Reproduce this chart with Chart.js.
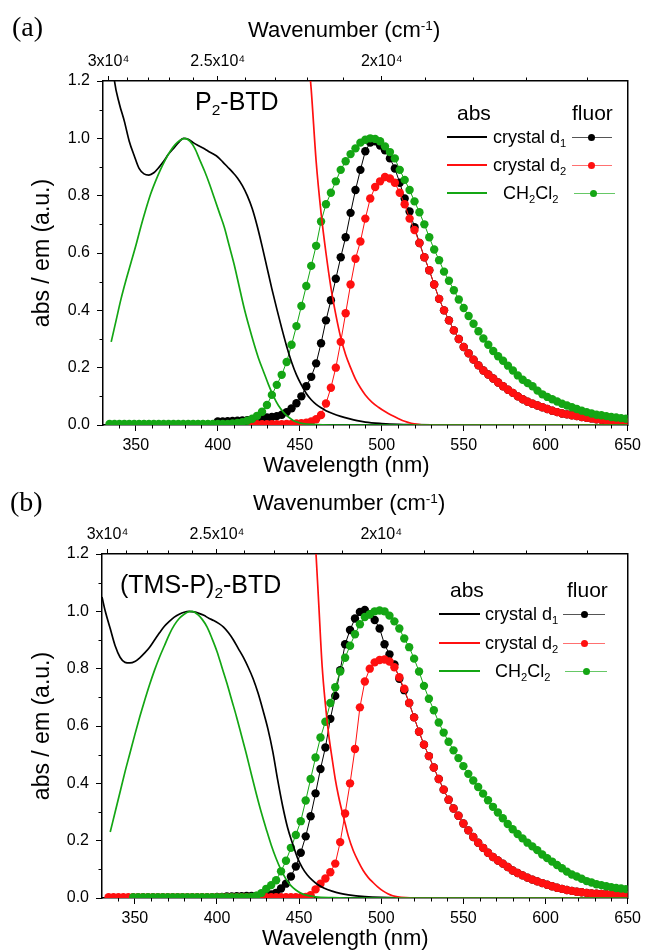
<!DOCTYPE html>
<html>
<head>
<meta charset="utf-8">
<script src="https://cdn.jsdelivr.net/npm/chart.js@4.4.1/dist/chart.umd.min.js"></script>
<style>
  html, body { margin: 0; padding: 0; background: #fff; }
  body { width: 646px; height: 952px; position: relative; overflow: hidden;
         font-family: "Liberation Sans", Arial, Helvetica, sans-serif; color: #000; }
  .panel { position: absolute; left: 0; }
  .txt { position: absolute; white-space: nowrap; line-height: 1; }
  .serif { font-family: "Liberation Serif", "Times New Roman", serif; }
  .txt sub { font-size: 0.62em; vertical-align: -0.32em; line-height: 0; }
  .txt sup { font-size: 0.62em; vertical-align: 0.55em; line-height: 0; }
  .bar { position: absolute; }
  .dot { position: absolute; width: 7px; height: 7px; border-radius: 50%; }
</style>
</head>
<body>
<div class="panel" style="top:0px"><canvas id="chartA" width="646" height="480"></canvas></div>
<div class="panel" style="top:473px"><canvas id="chartB" width="646" height="479"></canvas></div>
<script>
// ---- axis ticks ----
const nmMajor = [350, 400, 450, 500, 550, 600, 650];
const nmMinor = [340, 360, 370, 380, 390, 410, 420, 430, 440, 460, 470, 480, 490,
                 510, 520, 530, 540, 560, 570, 580, 590, 610, 620, 630, 640];
const yMajor = [0, 0.2, 0.4, 0.6, 0.8, 1.0, 1.2];
const yMinor = [0.1, 0.3, 0.5, 0.7, 0.9, 1.1];
const wnMajor = [30000, 25000, 20000];
const wnLabels = ['3x10\u2074', '2.5x10\u2074', '2x10\u2074'];
const wnMinor = [29000, 28000, 27000, 26000, 24000, 23000, 22000, 21000, 19000, 18000, 17000, 16000];

// ---- fluorescence wavelengths (shared by all emission series) ----
const fluorNm = [
  334, 337, 340, 343, 346, 349, 352, 355, 358, 361,
  364, 367, 370, 373, 376, 379, 382, 385, 388, 391,
  394, 397, 400, 403, 406, 409, 412, 415, 418, 421,
  424, 427, 430, 433, 436, 439, 442, 445, 448, 451,
  454, 457, 460, 463, 466, 469, 472, 475, 478, 481,
  484, 487, 490, 493, 496, 499, 502, 505, 508, 511,
  514, 517, 520, 523, 526, 529, 532, 535, 538, 541,
  544, 547, 550, 553, 556, 559, 562, 565, 568, 571,
  574, 577, 580, 583, 586, 589, 592, 595, 598, 601,
  604, 607, 610, 613, 616, 619, 622, 625, 628, 631,
  634, 637, 640, 643, 646, 649
];

// ---- (a) P2-BTD ----
const aAbsBlackNm = [335, 337, 340, 343, 346, 349, 352, 355, 358, 361, 364, 367, 370, 373, 376, 379, 382, 385, 388, 391,
  394, 397, 400, 403, 406, 409, 412, 415, 418, 421, 424, 427, 430, 433, 436, 439, 442, 445, 448, 451,
  454, 457, 460, 463, 466, 470, 475, 480, 485, 490, 500, 510, 520, 540, 650];
const aAbsBlack = [1.32, 1.2, 1.12, 1.06, 0.99, 0.94, 0.895, 0.876, 0.872, 0.88, 0.898, 0.92, 0.945, 0.965, 0.985, 1.0, 0.997, 0.985, 0.975, 0.966,
  0.956, 0.946, 0.935, 0.918, 0.9, 0.882, 0.862, 0.835, 0.8, 0.755, 0.695, 0.625, 0.55, 0.475, 0.405, 0.338, 0.275, 0.22, 0.175, 0.14,
  0.11, 0.088, 0.072, 0.06, 0.05, 0.04, 0.03, 0.022, 0.015, 0.01, 0.005, 0.002, 0.001, 0, 0];
const aAbsRedNm = [453, 455, 457, 460, 463, 466, 469, 472, 475, 478, 481, 484, 487, 490, 494, 498, 502, 506, 510, 514, 518, 522, 526, 650];
const aAbsRed = [1.45, 1.3, 1.17, 0.92, 0.74, 0.6, 0.48, 0.385, 0.305, 0.245, 0.2, 0.16, 0.13, 0.105, 0.08, 0.062, 0.047, 0.034, 0.023, 0.013, 0.006, 0.002, 0, 0];
const aAbsGreenNm = [335, 338, 341, 344, 347, 350, 353, 356, 359, 362, 365, 368, 371, 374, 377, 380, 383, 386, 389, 392,
  395, 398, 401, 404, 407, 410, 413, 416, 419, 422, 425, 428, 431, 434, 437, 440, 443, 446, 449, 452, 458, 470, 650];
const aAbsGreen = [0.29, 0.365, 0.44, 0.505, 0.565, 0.625, 0.69, 0.75, 0.805, 0.85, 0.89, 0.925, 0.955, 0.978, 0.993, 1.0, 0.99, 0.965, 0.925, 0.885,
  0.84, 0.79, 0.74, 0.69, 0.625, 0.56, 0.485, 0.41, 0.345, 0.285, 0.23, 0.185, 0.14, 0.1, 0.068, 0.045, 0.028, 0.016, 0.009, 0.005, 0.002, 0, 0];

const aFluorBlack = [
  null, null, null, null, null, null, null, null, null, null,
  null, null, null, null, null, null, null, null, null, null,
  null, null, 0.012, 0.012, 0.013, 0.014, 0.015, 0.016, 0.017, 0.019,
  0.021, 0.023, 0.026, 0.028, 0.031, 0.036, 0.045, 0.058, 0.076, 0.1,
  0.135, 0.168, 0.215, 0.285, 0.365, 0.435, 0.51, 0.585, 0.655, 0.74,
  0.82, 0.89, 0.955, 0.985, 0.99, 0.975, 0.958, 0.93, 0.895, 0.845,
  0.79, 0.745, 0.69, 0.635, 0.585, 0.54, 0.49, 0.44, 0.4, 0.365,
  0.33, 0.3, 0.272, 0.25, 0.228, 0.208, 0.19, 0.176, 0.162, 0.148,
  0.135, 0.123, 0.112, 0.1, 0.09, 0.081, 0.074, 0.068, 0.062, 0.056,
  0.05, 0.045, 0.04, 0.037, 0.034, 0.031, 0.028, 0.025, 0.023, 0.02,
  0.018, 0.016, 0.014, 0.012, 0.011, 0.01
];
const aFluorRed = [
  null, null, null, null, null, null, null, null, null, null,
  null, null, null, null, null, null, null, null, null, null,
  null, null, null, null, null, null, null, null, null, 0.003,
  0.003, 0.003, 0.003, 0.003, 0.003, 0.003, 0.004, 0.004, 0.005, 0.006,
  0.008, 0.012, 0.02, 0.035, 0.075, 0.13, 0.2, 0.29, 0.39, 0.49,
  0.58, 0.64, 0.72, 0.79, 0.83, 0.85, 0.865, 0.86, 0.845, 0.81,
  0.77, 0.72, 0.68, 0.635, 0.585, 0.54, 0.49, 0.44, 0.4, 0.365,
  0.33, 0.3, 0.272, 0.25, 0.228, 0.208, 0.19, 0.176, 0.162, 0.148,
  0.135, 0.123, 0.112, 0.1, 0.09, 0.081, 0.074, 0.068, 0.062, 0.056,
  0.05, 0.045, 0.04, 0.037, 0.034, 0.031, 0.028, 0.025, 0.023, 0.02,
  0.018, 0.016, 0.014, 0.012, 0.011, 0.01
];
const aFluorGreen = [
  0.004, 0.004, 0.004, 0.004, 0.004, 0.004, 0.004, 0.004, 0.004, 0.004,
  0.004, 0.004, 0.004, 0.004, 0.004, 0.004, 0.004, 0.004, 0.004, 0.004,
  0.004, 0.004, 0.004, 0.004, 0.004, 0.005, 0.007, 0.01, 0.015, 0.022,
  0.032, 0.046, 0.07, 0.105, 0.14, 0.175, 0.22, 0.28, 0.345, 0.415,
  0.485, 0.555, 0.625, 0.71, 0.77, 0.81, 0.85, 0.89, 0.92, 0.945,
  0.965, 0.985, 0.995, 1.0, 0.998, 0.99, 0.972, 0.952, 0.93, 0.89,
  0.855, 0.82, 0.78, 0.742, 0.7, 0.655, 0.612, 0.575, 0.535, 0.503,
  0.47, 0.438, 0.408, 0.38, 0.353, 0.327, 0.302, 0.28, 0.258, 0.24,
  0.224, 0.207, 0.19, 0.173, 0.158, 0.146, 0.135, 0.12, 0.107, 0.098,
  0.09, 0.082, 0.074, 0.068, 0.062, 0.056, 0.05, 0.045, 0.04, 0.036,
  0.034, 0.031, 0.028, 0.026, 0.024, 0.022
];

// ---- (b) (TMS-P)2-BTD ----
const bAbsBlackNm = [330, 332, 335, 338, 341, 344, 347, 350, 353, 356, 359, 362, 365, 368, 371, 374, 377, 380, 383, 386,
  389, 392, 395, 398, 401, 404, 407, 410, 413, 416, 419, 422, 425, 428, 431, 434, 437, 440, 443, 446,
  449, 452, 455, 458, 461, 465, 470, 475, 480, 490, 500, 520, 650];
const bAbsBlack = [1.05, 1.0, 0.94, 0.88, 0.84, 0.822, 0.82, 0.825, 0.838, 0.855, 0.875, 0.9, 0.925, 0.948, 0.965, 0.98, 0.99, 0.997, 1.0, 0.998,
  0.993, 0.986, 0.976, 0.968, 0.958, 0.945, 0.925, 0.9, 0.87, 0.84, 0.805, 0.765, 0.715, 0.655, 0.59, 0.51, 0.41, 0.32, 0.245, 0.19,
  0.14, 0.105, 0.08, 0.062, 0.048, 0.035, 0.024, 0.016, 0.011, 0.005, 0.002, 0, 0];
const bAbsRedNm = [459, 460, 462, 464, 466, 468, 470, 472, 474, 476, 478, 480, 483, 486, 489, 492, 495, 498, 501, 504, 507, 510, 515, 520, 650];
const bAbsRed = [1.32, 1.23, 1.02, 0.81, 0.675, 0.57, 0.49, 0.415, 0.355, 0.305, 0.26, 0.215, 0.165, 0.128, 0.096, 0.072, 0.054, 0.038, 0.025, 0.015, 0.008, 0.004, 0.001, 0, 0];
const bAbsGreenNm = [335, 338, 341, 344, 347, 350, 353, 356, 359, 362, 365, 368, 371, 374, 377, 380, 383, 385, 388, 391,
  394, 397, 400, 403, 406, 409, 412, 415, 418, 421, 424, 427, 430, 433, 436, 439, 442, 445, 448, 451, 455, 460, 470, 480, 650];
const bAbsGreen = [0.23, 0.3, 0.37, 0.44, 0.505, 0.57, 0.632, 0.69, 0.745, 0.795, 0.84, 0.88, 0.92, 0.952, 0.975, 0.99, 0.999, 1.0, 0.99, 0.972,
  0.945, 0.905, 0.86, 0.805, 0.75, 0.69, 0.63, 0.565, 0.5, 0.43, 0.362, 0.298, 0.24, 0.185, 0.138, 0.098, 0.066, 0.043, 0.028, 0.017, 0.009, 0.004, 0.001, 0, 0];

const bFluorBlack = [
  null, null, null, null, null, null, null, null, null, null,
  null, null, null, null, null, null, null, null, null, null,
  null, null, 0.004, 0.004, 0.005, 0.005, 0.006, 0.006, 0.007, 0.007,
  0.007, 0.007, 0.008, 0.012, 0.018, 0.033, 0.05, 0.075, 0.11, 0.158,
  0.215, 0.285, 0.365, 0.45, 0.525, 0.625, 0.705, 0.795, 0.885, 0.935,
  0.975, 0.998, 1.005, 0.99, 0.97, 0.94, 0.885, 0.85, 0.815, 0.765,
  0.725, 0.68, 0.63, 0.58, 0.535, 0.495, 0.455, 0.415, 0.378, 0.343,
  0.312, 0.287, 0.26, 0.236, 0.213, 0.193, 0.175, 0.158, 0.143, 0.131,
  0.12, 0.108, 0.096, 0.087, 0.079, 0.071, 0.064, 0.058, 0.052, 0.046,
  0.041, 0.036, 0.032, 0.028, 0.025, 0.022, 0.02, 0.018, 0.016, 0.015,
  0.014, 0.013, 0.012, 0.012, 0.011, 0.011
];
const bFluorRed = [
  0.003, 0.003, 0.003, 0.003, 0.003, 0.003, 0.003, 0.003, 0.003, 0.003,
  0.003, 0.003, 0.003, 0.003, 0.003, 0.003, 0.003, 0.003, 0.003, 0.003,
  0.003, 0.003, 0.003, 0.003, 0.003, 0.003, 0.003, 0.003, 0.003, 0.003,
  0.003, 0.003, 0.003, 0.003, 0.003, 0.003, 0.003, 0.003, 0.003, 0.003,
  0.004, 0.01, 0.03, 0.05, 0.068, 0.09, 0.12, 0.195, 0.295, 0.4,
  0.52, 0.665, 0.755, 0.8, 0.822, 0.83, 0.832, 0.825, 0.805, 0.77,
  0.73, 0.68, 0.63, 0.58, 0.535, 0.495, 0.455, 0.415, 0.378, 0.343,
  0.312, 0.287, 0.26, 0.236, 0.213, 0.193, 0.175, 0.158, 0.143, 0.131,
  0.12, 0.108, 0.096, 0.087, 0.079, 0.071, 0.064, 0.058, 0.052, 0.046,
  0.041, 0.036, 0.032, 0.028, 0.025, 0.022, 0.02, 0.018, 0.016, 0.015,
  0.014, 0.013, 0.012, 0.012, 0.011, 0.011
];
const bFluorGreen = [
  null, null, null, null, null, 0.003, 0.003, 0.003, 0.003, 0.003,
  0.003, 0.003, 0.003, 0.003, 0.003, 0.003, 0.003, 0.003, 0.003, 0.003,
  0.003, 0.003, 0.003, 0.003, 0.003, 0.003, 0.003, 0.003, 0.003, 0.004,
  0.008, 0.017, 0.032, 0.045, 0.062, 0.093, 0.13, 0.175, 0.22, 0.268,
  0.34, 0.415, 0.49, 0.56, 0.615, 0.68, 0.735, 0.79, 0.838, 0.88,
  0.92, 0.955, 0.98, 0.99, 1.0, 1.003, 1.0, 0.985, 0.965, 0.94,
  0.905, 0.875, 0.835, 0.79, 0.74, 0.695, 0.655, 0.612, 0.577, 0.545,
  0.515, 0.488, 0.46, 0.433, 0.41, 0.387, 0.364, 0.341, 0.318, 0.298,
  0.278, 0.258, 0.24, 0.223, 0.208, 0.193, 0.18, 0.167, 0.152, 0.139,
  0.127, 0.115, 0.104, 0.092, 0.082, 0.075, 0.067, 0.059, 0.054, 0.048,
  0.045, 0.041, 0.038, 0.035, 0.033, 0.031
];

const BLACK = '#000000';
const RED = '#ff1010';
const GREEN = '#14a614';

Chart.defaults.font.family = '"Liberation Sans", Arial, Helvetica, sans-serif';
Chart.defaults.color = '#000';

function pts(nm, ys) {
  return nm.map((x, i) => ({ x, y: ys[i] })).filter(p => p.y !== null);
}

function absSet(nm, ys, color, order) {
  return { data: pts(nm, ys), showLine: true, borderColor: color, borderWidth: 1.7,
           pointRadius: 0, cubicInterpolationMode: 'monotone', order };
}

function fluorSet(ys, color, order) {
  return { data: pts(fluorNm, ys), showLine: true, borderColor: color, borderWidth: 1,
           pointRadius: 4.2, pointBackgroundColor: color, pointBorderColor: color,
           pointBorderWidth: 0, order };
}

// short minor ticks on bottom, top and left axes
const minorTicks = {
  id: 'minorTicks',
  afterDraw(chart) {
    const { ctx, chartArea: a, scales } = chart;
    ctx.save();
    ctx.strokeStyle = '#000';
    ctx.lineWidth = 1;
    ctx.beginPath();
    nmMinor.forEach(v => {
      const x = Math.round(scales.x.getPixelForValue(v)) + 0.5;
      ctx.moveTo(x, a.bottom); ctx.lineTo(x, a.bottom + 3.5);
    });
    wnMinor.forEach(w => {
      const x = Math.round(scales.xTop.getPixelForValue(1e7 / w)) + 0.5;
      ctx.moveTo(x, a.top); ctx.lineTo(x, a.top - 3.5);
    });
    yMinor.forEach(v => {
      const y = Math.round(scales.y.getPixelForValue(v)) + 0.5;
      ctx.moveTo(a.left, y); ctx.lineTo(a.left - 3.5, y);
    });
    ctx.stroke();
    ctx.restore();
  }
};

function makeChart(id, g, sets) {
  const canvas = document.getElementById(id);
  const H = canvas.height;
  const axisBase = {
    type: 'linear',
    border: { display: true, color: '#000', width: 1.5 },
    grid: { drawOnChartArea: false, drawTicks: true, tickLength: 6, tickColor: '#000', tickWidth: 1 },
  };
  return new Chart(canvas, {
    type: 'scatter',
    data: { datasets: sets },
    options: {
      responsive: false,
      animation: false,
      events: [],
      layout: { padding: 0 },
      plugins: { legend: { display: false }, tooltip: { enabled: false } },
      scales: {
        x: {
          ...axisBase, position: 'bottom', min: 330, max: 650,
          afterBuildTicks: s => { s.ticks = nmMajor.map(v => ({ value: v })); },
          afterFit: s => { s.height = H - g.bottom; },
          ticks: { font: { size: 16 }, color: '#000', padding: 5, autoSkip: false, maxRotation: 0,
                   callback: v => String(v) }
        },
        xTop: {
          ...axisBase, position: 'top', min: 330, max: 650,
          grid: { ...axisBase.grid, tickLength: 5 },
          afterBuildTicks: s => { s.ticks = wnMajor.map(w => ({ value: 1e7 / w })); },
          afterFit: s => { s.height = g.top; },
          ticks: { font: { size: 16 }, color: '#000', padding: 5, autoSkip: false, maxRotation: 0,
                   callback: (v, i) => wnLabels[i] }
        },
        y: {
          ...axisBase, position: 'left', min: 0, max: 1.2,
          afterBuildTicks: s => { s.ticks = yMajor.map(v => ({ value: v })); },
          afterFit: s => { s.width = g.left; },
          ticks: { font: { size: 16 }, color: '#000', padding: 7, autoSkip: false,
                   callback: v => v.toFixed(1) },
          title: { display: true, text: 'abs / em (a.u.)', color: '#000', font: { size: 23 },
                   padding: { top: 29, bottom: 0 } }
        },
        yRight: {
          ...axisBase, position: 'right', min: 0, max: 1.2,
          grid: { display: false },
          ticks: { display: false },
          afterFit: s => { s.width = canvas.width - g.right; }
        }
      }
    },
    plugins: [minorTicks]
  });
}

makeChart('chartA', { left: 103, right: 631, top: 81, bottom: 425 }, [
  absSet(aAbsGreenNm, aAbsGreen, GREEN, 0),
  absSet(aAbsRedNm, aAbsRed, RED, 1),
  absSet(aAbsBlackNm, aAbsBlack, BLACK, 2),
  fluorSet(aFluorGreen, GREEN, 3),
  fluorSet(aFluorRed, RED, 4),
  fluorSet(aFluorBlack, BLACK, 5)
]);

makeChart('chartB', { left: 102, right: 629, top: 81, bottom: 425 }, [
  absSet(bAbsGreenNm, bAbsGreen, GREEN, 0),
  absSet(bAbsRedNm, bAbsRed, RED, 1),
  absSet(bAbsBlackNm, bAbsBlack, BLACK, 2),
  fluorSet(bFluorGreen, GREEN, 3),
  fluorSet(bFluorRed, RED, 4),
  fluorSet(bFluorBlack, BLACK, 5)
]);

// ---- text labels and legend (HTML overlay) ----
function addText(html, x, baseline, size, cls) {
  const el = document.createElement('div');
  el.className = 'txt' + (cls ? ' ' + cls : '');
  el.innerHTML = html;
  el.style.left = x + 'px';
  el.style.top = (baseline - (cls === 'serif' ? 0.84 : 0.85) * size) + 'px';
  el.style.fontSize = size + 'px';
  document.body.appendChild(el);
}

function addBar(x1, x2, y, h, color) {
  const el = document.createElement('div');
  el.className = 'bar';
  el.style.left = x1 + 'px';
  el.style.width = (x2 - x1) + 'px';
  el.style.top = (y - h / 2) + 'px';
  el.style.height = h + 'px';
  el.style.background = color;
  document.body.appendChild(el);
}

function addDot(x, y, color) {
  const el = document.createElement('div');
  el.className = 'dot';
  el.style.left = (x - 3.5) + 'px';
  el.style.top = (y - 3.5) + 'px';
  el.style.background = color;
  document.body.appendChild(el);
}

function legendBlock(L) {
  addText('abs', L.absX, L.headBase, 21);
  addText('fluor', L.fluorX, L.headBase, 21);
  const names = ['crystal d<sub>1</sub>', 'crystal d<sub>2</sub>', 'CH<sub>2</sub>Cl<sub>2</sub>'];
  const cols = [BLACK, RED, GREEN];
  const light = ['#555', '#ff7070', '#66c866'];
  L.rows.forEach((y, i) => {
    addBar(L.lineX1, L.lineX2, y, 2, cols[i]);
    addText(names[i], i === 2 ? L.chX : L.textX, y + 6, 18);
    const f = L.fluor[i];
    addBar(f[0], f[1], y, 1, light[i]);
    addDot(f[2], y, cols[i]);
  });
}

// panel (a)
addText('(a)', 12, 37, 28, 'serif');
addText('Wavenumber (cm<sup>-1</sup>)', 248, 38, 22);
addText('Wavelength (nm)', 263, 473, 22);
addText('P<sub>2</sub>-BTD', 195, 110, 25);
legendBlock({ absX: 457, fluorX: 572, headBase: 120, rows: [137, 165, 193],
              lineX1: 447, lineX2: 487, textX: 493, chX: 503,
              fluor: [[572, 612, 591], [572, 612, 591], [574, 615, 593]] });

// panel (b)
addText('(b)', 10, 512, 28, 'serif');
addText('Wavenumber (cm<sup>-1</sup>)', 253, 511, 22);
addText('Wavelength (nm)', 262, 946, 22);
addText('(TMS-P)<sub>2</sub>-BTD', 120, 593, 25);
legendBlock({ absX: 450, fluorX: 567, headBase: 597, rows: [614, 643, 671],
              lineX1: 439, lineX2: 480, textX: 485, chX: 495,
              fluor: [[563, 605, 584], [563, 605, 584], [565, 607, 586]] });
</script>
</body>
</html>
